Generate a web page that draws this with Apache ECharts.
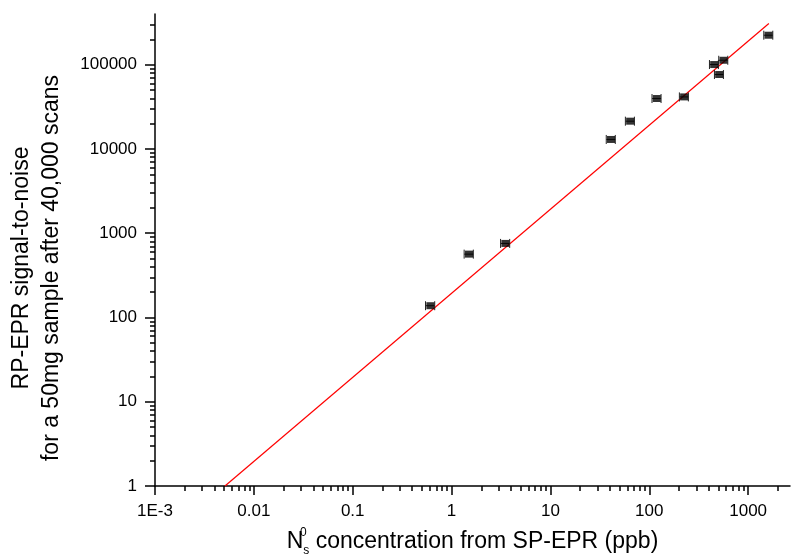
<!DOCTYPE html>
<html>
<head>
<meta charset="utf-8">
<script src="https://cdn.jsdelivr.net/npm/echarts@6/dist/echarts.min.js"></script>
<style>
  html, body { margin: 0; padding: 0; background: #ffffff; }
  #chart { width: 791px; height: 558px; }
</style>
</head>
<body>
<div id="chart"></div>
<script>
// ---- data ----
var concPpb   = [0.61, 1.50, 3.5, 41, 64, 119, 225, 453, 509, 563, 1607];
var signalSN  = [138, 565, 757, 12970, 21380, 39700, 41500, 100500, 76500, 113000, 224000];
var concErr   = [0.065, 0.16, 0.37, 4.3, 6.7, 12.5, 23.5, 47, 53, 59, 168];
var fitX      = [0.0051, 1620];
var fitY      = [1, 308000];

var xTickValues = [0.001, 0.01, 0.1, 1, 10, 100, 1000];
var xTickLabels = ['1E-3', '0.01', '0.1', '1', '10', '100', '1000'];
var yTickValues = [1, 10, 100, 1000, 10000, 100000];
var yTickLabels = ['1', '10', '100', '1000', '10000', '100000'];

var X_MIN = 0.001, X_MAX = 2650, Y_MIN = 1, Y_MAX = 400000;

// both axes are decade (log10) scales
var L = Math.log10;

function minorTicks(lo, hi) {
  var out = [];
  for (var e = -4; e <= 6; e++) {
    for (var k = 2; k <= 9; k++) {
      var v = k * Math.pow(10, e);
      if (v > lo && v < hi) out.push(L(v));
    }
  }
  return out;
}
var xMinor = minorTicks(X_MIN, X_MAX);
var yMinor = minorTicks(Y_MIN, Y_MAX);
var xMajor = xTickValues.map(L);
var yMajor = yTickValues.map(L);

var scatterData = concPpb.map(function (x, i) { return [L(x), L(signalSN[i])]; });
var errData = concPpb.map(function (x, i) { return [L(x), L(signalSN[i]), L(x - concErr[i]), L(x + concErr[i])]; });
var fitData = fitX.map(function (x, i) { return [L(x), L(fitY[i])]; });

var FONT = 'Liberation Sans, Arial, sans-serif';

function labelFrom(major, labels) {
  return function (v) {
    for (var i = 0; i < major.length; i++) {
      if (Math.abs(v - major[i]) < 1e-6) return labels[i];
    }
    return '';
  };
}

var tickLine = { color: '#000', width: 1.5 };

var chart = echarts.init(document.getElementById('chart'), null, { renderer: 'canvas' });
chart.setOption({
  animation: false,
  backgroundColor: '#ffffff',
  grid: { left: 155, right: 1, top: 14, bottom: 72, containLabel: false, outerBoundsMode: 'none' },
  xAxis: [{
    type: 'value', min: L(X_MIN), max: L(X_MAX), position: 'bottom',
    axisLine: { show: true, onZero: false, lineStyle: { color: '#000', width: 1.5 } },
    axisTick: { show: true, inside: false, length: 9, customValues: xMajor, lineStyle: tickLine },
    axisLabel: { show: true, margin: 17, customValues: xMajor, formatter: labelFrom(xMajor, xTickLabels),
                 color: '#000', fontSize: 17, fontFamily: FONT },
    splitLine: { show: false },
    name: '{n|N}{sup|0}{sub|s}{t| concentration from SP-EPR (ppb)}',
    nameLocation: 'middle', nameGap: 41,
    nameTextStyle: {
      color: '#000', fontFamily: FONT,
      rich: {
        n:   { fontSize: 23, fontFamily: FONT, color: '#000', lineHeight: 30, verticalAlign: 'middle' },
        sup: { fontSize: 12, fontFamily: FONT, color: '#000', lineHeight: 12, verticalAlign: 'top', width: 0 },
        sub: { fontSize: 12, fontFamily: FONT, color: '#000', lineHeight: 12, verticalAlign: 'bottom' },
        t:   { fontSize: 23, fontFamily: FONT, color: '#000', lineHeight: 30, verticalAlign: 'middle' }
      }
    }
  }, {
    type: 'value', min: L(X_MIN), max: L(X_MAX), position: 'bottom',
    axisLine: { show: false, onZero: false },
    axisTick: { show: true, inside: false, length: 5, customValues: xMinor, lineStyle: tickLine },
    axisLabel: { show: false },
    splitLine: { show: false }
  }],
  yAxis: [{
    type: 'value', min: L(Y_MIN), max: L(Y_MAX), position: 'left',
    axisLine: { show: true, onZero: false, lineStyle: { color: '#000', width: 1.5 } },
    axisTick: { show: true, inside: false, length: 10, customValues: yMajor, lineStyle: tickLine },
    axisLabel: { show: true, margin: 18, customValues: yMajor, formatter: labelFrom(yMajor, yTickLabels),
                 color: '#000', fontSize: 17, fontFamily: FONT },
    splitLine: { show: false },
    name: 'RP-EPR signal-to-noise\nfor a 50mg sample after 40,000 scans',
    nameLocation: 'middle', nameGap: 88, nameRotate: 90,
    nameTextStyle: { color: '#000', fontSize: 23, fontFamily: FONT, lineHeight: 30, align: 'center', padding: [0, 36, 0, 0] }
  }, {
    type: 'value', min: L(Y_MIN), max: L(Y_MAX), position: 'left',
    axisLine: { show: false, onZero: false },
    axisTick: { show: true, inside: false, length: 5, customValues: yMinor, lineStyle: tickLine },
    axisLabel: { show: false },
    splitLine: { show: false }
  }],
  series: [{
    name: 'fit', type: 'line', xAxisIndex: 0, yAxisIndex: 0,
    data: fitData, symbol: 'none', clip: true,
    lineStyle: { color: '#ff0000', width: 1.2 }, z: 2
  }, {
    name: 'xerr', type: 'custom', xAxisIndex: 0, yAxisIndex: 0,
    data: errData, z: 3,
    renderItem: function (params, api) {
      var y = api.value(1);
      var p1 = api.coord([api.value(2), y]);
      var p2 = api.coord([api.value(3), y]);
      var h = 4.5;
      var st = { stroke: '#222', lineWidth: 1 };
      return {
        type: 'group',
        children: [
          { type: 'line', shape: { x1: p1[0], y1: p1[1], x2: p2[0], y2: p2[1] }, style: st },
          { type: 'line', shape: { x1: p1[0], y1: p1[1] - h, x2: p1[0], y2: p1[1] + h }, style: st },
          { type: 'line', shape: { x1: p2[0], y1: p2[1] - h, x2: p2[0], y2: p2[1] + h }, style: st }
        ]
      };
    }
  }, {
    name: 'data', type: 'scatter', xAxisIndex: 0, yAxisIndex: 0,
    data: scatterData, symbol: 'rect', symbolSize: [8, 7],
    itemStyle: { color: '#000' }, z: 4
  }]
});
</script>
</body>
</html>
